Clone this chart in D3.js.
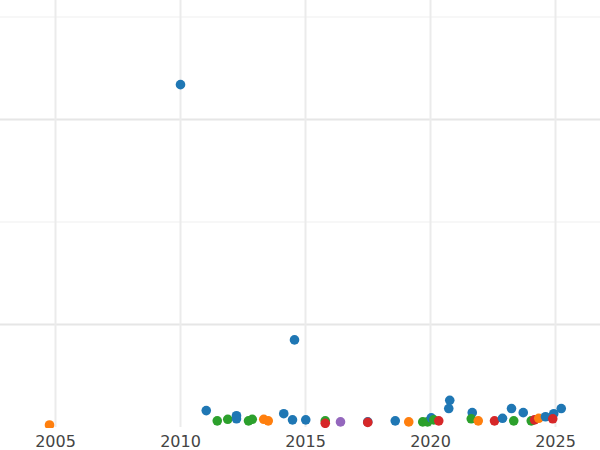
<!DOCTYPE html>
<html><head><meta charset="utf-8">
<script src="https://cdn.jsdelivr.net/npm/d3@7"></script>
<style>body{margin:0;background:#fff}svg{display:block;font-family:"DejaVu Sans",sans-serif}</style>
</head><body><svg id="c" width="600" height="450"></svg>
<script>
var colors = {blue:'#1f77b4', orange:'#ff7f0e', green:'#2ca02c', red:'#d62728', purple:'#9467bd'};
var years = [2010.0,2014.56,2004.76,2011.03,2011.47,2011.89,2012.24,2012.24,2012.72,2012.87,2013.33,2013.51,2014.13,2014.48,2015.01,2015.79,2015.79,2016.4,2017.49,2017.49,2018.59,2019.13,2019.69,2019.88,2020.03,2020.13,2020.33,2020.77,2020.73,2021.67,2021.63,2021.91,2022.56,2022.88,2023.24,2023.33,2023.71,2024.03,2024.16,2024.33,2024.6,2024.93,2024.89,2025.23];
var values = [3.34,0.85,0.02,0.16,0.06,0.075,0.11,0.08,0.06,0.075,0.075,0.06,0.13,0.07,0.07,0.06,0.036,0.05,0.05,0.045,0.06,0.05,0.05,0.05,0.09,0.07,0.06,0.26,0.18,0.14,0.08,0.06,0.06,0.085,0.18,0.06,0.14,0.06,0.07,0.085,0.1,0.13,0.08,0.18];
var groups = ['blue','blue','orange','blue','green','green','blue','blue','green','green','orange','orange','blue','blue','blue','green','red','purple','blue','red','blue','orange','green','green','blue','green','red','blue','blue','blue','green','orange','red','blue','blue','green','blue','green','red','orange','blue','blue','red','blue'];
var xTicks = [2005,2010,2015,2020,2025];
var majorY = [1,3], minorY = [2,4];

var svg = d3.select('#c');
var x = d3.scaleLinear().domain([2002.78,2026.78]).range([0,600]);
var y = d3.scaleLinear().domain([0,4]).range([427,17]);

svg.append('defs').append('clipPath').attr('id','clip').append('rect').attr('x',0).attr('y',0).attr('width',600).attr('height',428);

svg.selectAll('.ming').data(minorY).enter().append('line')
  .attr('x1',0).attr('x2',600).attr('y1',y).attr('y2',y).attr('stroke','#efefef').attr('stroke-width',1);
svg.selectAll('.majg').data(majorY).enter().append('line')
  .attr('x1',0).attr('x2',600).attr('y1',y).attr('y2',y).attr('stroke','#e6e6e6').attr('stroke-width',2);
svg.selectAll('.xg').data(xTicks).enter().append('line')
  .attr('x1',x).attr('x2',x).attr('y1',0).attr('y2',427).attr('stroke','#ebebeb').attr('stroke-width',2);

svg.append('g').attr('clip-path','url(#clip)').selectAll('circle').data(years).enter().append('circle')
  .attr('cx',function(d){return x(d);})
  .attr('cy',function(d,i){return y(values[i]);})
  .attr('r',4.8)
  .attr('fill',function(d,i){return colors[groups[i]];});

svg.selectAll('.xl').data(xTicks).enter().append('text')
  .attr('x',x).attr('y',447).attr('text-anchor','middle')
  .attr('font-size',16).attr('fill','#444').text(function(d){return d;});
</script></body></html>
